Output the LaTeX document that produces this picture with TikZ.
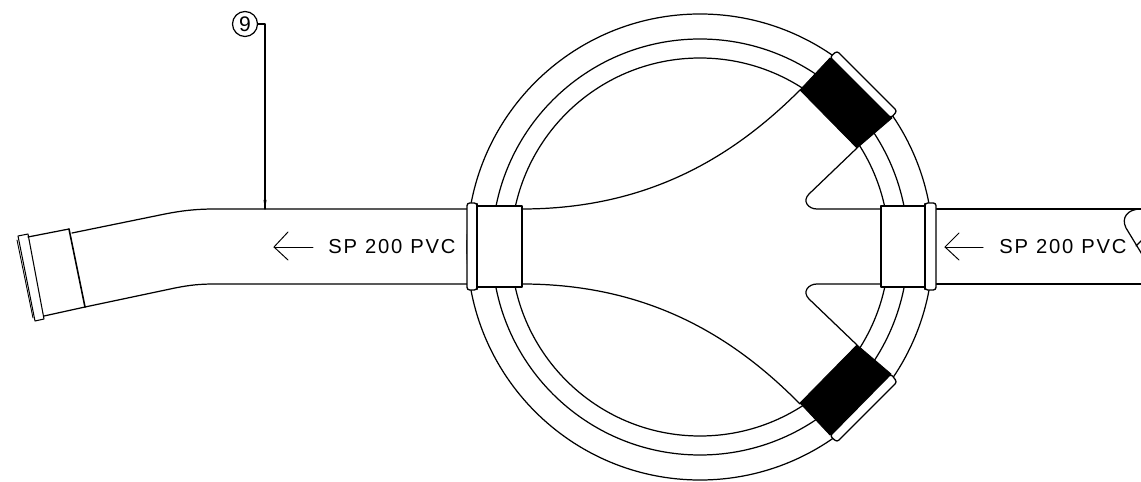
\documentclass[tikz,border=0pt]{standalone}
\usepackage{fontspec}
\usepackage{tikz}
\setmainfont{Liberation Sans}
\tikzset{
  pipeline/.style={draw=black, line width=0.7pt},
  bandline/.style={draw=black, fill=white, line width=0.75pt, rounded corners=1.5pt},
  collar/.style={draw=black, fill=black, line width=0.5pt},
  pipelabel/.style={font=\fontsize{11.5}{12}\selectfont\addfontfeature{LetterSpace=9}, inner sep=0pt, anchor=west},
}
\begin{document}
\begin{tikzpicture}[x=0.02cm, y=-0.02cm, line join=round, line cap=round]
\useasboundingbox (0,0) rectangle (1141,482);
\coordinate (c) at (700,247);
% rings of the chamber
\draw[pipeline] (c) circle (233);
\draw[pipeline] (c) circle (208);
\draw[pipeline] (c) circle (189);
% white out inside the branches
\fill[white] (522,209) .. controls (650,209) and (735,155) .. (800,90) -- (857,148) -- (808,197) -- (817,209) -- (881,209) -- (881,284) -- (817,284) -- (808,296) -- (857,345) -- (800,404) .. controls (735,338) and (650,284) .. (522,284) -- cycle;
% inner branches
\draw[pipeline] (522,209) .. controls (650,209) and (735,155) .. (800,90);
\draw[pipeline] (522,284) .. controls (650,284) and (735,338) .. (800,404);
\draw[pipeline] (857,148) -- (809,194) .. controls (802,201) and (808,209) .. (817,209) -- (881,209);
\draw[pipeline] (857,345) -- (809,299) .. controls (802,292) and (808,284) .. (817,284) -- (881,284);
% black collars
\draw[collar] (800,90) -- (830,58) -- (892,118) -- (857,148) -- cycle;
\draw[collar] (800,403) -- (830,435) -- (891,374) -- (857,345) -- cycle;
\draw[bandline] (830,57) -- (837,51) -- (897,111) -- (891,118) -- cycle;
\draw[bandline] (830,436) -- (837,442) -- (897,382) -- (891,374) -- cycle;
% outgoing pipe
\draw[pipeline] (467,209) -- (215,209) .. controls (195,209) and (180,211) .. (165,214) -- (72,233);
\draw[pipeline] (467,284) -- (215,284) .. controls (200,284) and (190,285) .. (175,288) -- (85,307);
\draw[pipeline, line width=0.5pt] (17,240) -- (33,318);
\draw[pipeline, line width=0.6pt] (18,236) -- (28,234) -- (44,319) -- (35,321) -- cycle;
\draw[pipeline] (28,237) -- (69,229);
\draw[pipeline, line width=0.9pt] (69,229) -- (85,307);
\draw[pipeline] (85,307) -- (44,316);
% incoming pipe
\draw[pipeline] (936,209) -- (1141,209);
\draw[pipeline] (936,284) -- (1141,284);
\draw[pipeline] (1141,209) .. controls (1127,209) and (1121,218) .. (1126,228) -- (1143,256);
\draw[pipeline] (1136,246) -- (1142,240);
% couplings
\draw[draw=black, fill=white, line width=0.7pt] (477,206) rectangle (522,287);
\draw[bandline] (467,203) rectangle (477,290);
\draw[draw=black, fill=white, line width=0.7pt] (881,206) rectangle (925,287);
\draw[bandline] (925,203) rectangle (936,290);
\draw[line width=1.3pt] (477,204) -- (477,289);
\draw[line width=1.3pt] (925,204) -- (925,289);
% flow labels
\draw[pipeline, line width=0.55pt] (313,247) -- (274,247);
\draw[pipeline, line width=0.55pt] (288,232) -- (274,247) -- (288,260);
\draw[pipeline, line width=0.55pt] (983,247) -- (945,247);
\draw[pipeline, line width=0.55pt] (959,233) -- (945,247) -- (959,260);
\node[pipelabel] (lab1) at (328,247) {SP\hspace{4.5pt}200\hspace{4.5pt}PVC};
\node[pipelabel] (lab2) at (999,247) {SP\hspace{4.5pt}200\hspace{4.5pt}PVC};
% callout
\node[draw, circle, line width=0.7pt, minimum size=0.5cm, inner sep=0pt, font=\fontsize{12}{12}\selectfont] (nine) at (245,24) {9};
\coordinate (hit) at (265,209);
\draw[pipeline, line width=0.6pt] (nine.east) -- (265,24) -- (hit);
\fill (hit) -- (263.5,200) -- (266.5,200) -- cycle;
\end{tikzpicture}
\end{document}
